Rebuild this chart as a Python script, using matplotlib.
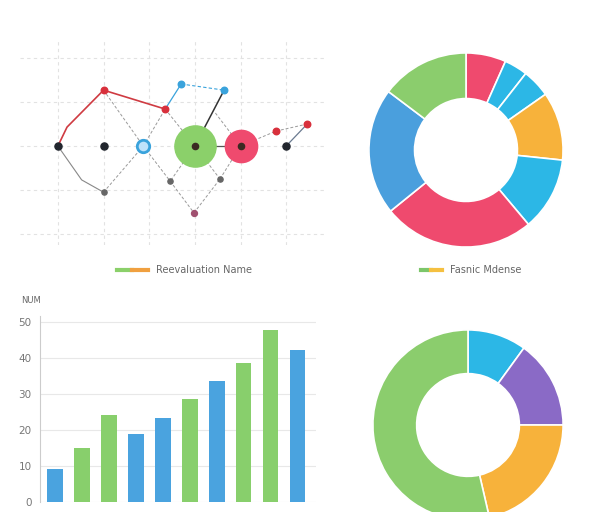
import matplotlib
matplotlib.use("Agg")
import matplotlib.pyplot as plt
from matplotlib.lines import Line2D
from matplotlib.legend_handler import HandlerTuple

# top-left network / scatter chart
node_x = [0, 1, 5]
node_y = [0, 0, 0]
red_x = [1, 2.35, 4.78, 5.46]
red_y = [1.27, 0.84, 0.34, 0.5]
blue_x = [2.7, 3.64]
blue_y = [1.41, 1.27]
gray_x = [1.0, 2.46, 3.55]
gray_y = [-1.05, -0.8, -0.75]
low_x, low_y = 2.98, -1.52
ring_x, ring_y = 1.87, 0
big_green = (3, 0)
big_red = (4, 0)
red_path_x = [0, 0.2, 1, 2.35]
red_path_y = [0, 0.43, 1.27, 0.84]
gray_path_x = [0, 0.52, 1.0]
gray_path_y = [0, -0.77, -1.05]
dashed_links = [((1, 1.27), (1.87, 0)), ((1.87, 0), (2.35, 0.84)), ((2.35, 0.84), (3, 0)),
                ((1.0, -1.05), (1.87, 0)), ((1.87, 0), (2.46, -0.8)), ((2.46, -0.8), (2.98, -1.52)),
                ((2.98, -1.52), (3.55, -0.75)), ((3.55, -0.75), (4, 0)), ((3, 0), (2.46, -0.8)),
                ((3, 0), (3.55, -0.75)), ((3.45, 0.75), (4, 0)), ((4, 0), (4.78, 0.34)),
                ((4.78, 0.34), (5.46, 0.5))]

# top-right donut
donut1_vals = [24, 14, 17, 41, 44, 91, 76, 53]
donut1_cols = ["#ef4a6e", "#2cb7e6", "#2cb7e6", "#f7b23b", "#2cb7e6", "#ef4a6e", "#4a9fdd", "#8bcd6d"]

# bottom-left bars
bar_vals = [9.2, 15.1, 24.2, 18.8, 23.4, 28.5, 33.5, 38.6, 47.6, 42.3]
bar_cols = ["#4aa3df", "#88cf6c", "#88cf6c", "#4aa3df", "#4aa3df", "#88cf6c",
            "#4aa3df", "#88cf6c", "#88cf6c", "#4aa3df"]
yticks = [0, 10, 20, 30, 40, 50]

# bottom-right donut
donut2_vals = [36, 54, 77, 193]
donut2_cols = ["#2cb7e6", "#8a6ac6", "#f7b23b", "#8bcd6d"]

W, H = 600, 512
fig = plt.figure(figsize=(6, 5.12), dpi=100)
fig.patch.set_facecolor("white")

def box(x0, y0, x1, y1):
    return [x0 / W, (H - y1) / H, (x1 - x0) / W, (y1 - y0) / H]

# ---- network chart
ax1 = fig.add_axes(box(20, 40, 325, 245))
ax1.set_xlim(-0.83, 5.85)
ax1.set_ylim(-2.25, 2.41)
ax1.set_xticks(range(6))
ax1.set_yticks([-2, -1, 0, 1, 2])
ax1.grid(True, ls=(0, (3, 3)), color="#e2e2e2", lw=0.8)
ax1.tick_params(length=0, labelbottom=False, labelleft=False)
for s in ax1.spines.values():
    s.set_visible(False)
for (a, b) in dashed_links:
    ax1.plot([a[0], b[0]], [a[1], b[1]], ls=(0, (3, 2)), color="#9a9a9a", lw=0.7, zorder=2)
ax1.plot(red_path_x, red_path_y, color="#cf3b42", lw=1.2, zorder=3)
ax1.plot(gray_path_x, gray_path_y, color="#888888", lw=0.8, zorder=3)
ax1.plot([2.35, 2.7], [0.84, 1.41], color="#3aa3dc", lw=0.9, zorder=3)
ax1.plot(blue_x, blue_y, color="#3aa3dc", ls=(0, (3, 2)), lw=0.8, zorder=3)
ax1.plot([3.64, 3], [1.27, 0], color="#333333", lw=1.1, zorder=3)
ax1.plot([3, 4], [0, 0], color="#555555", lw=0.9, zorder=3)
ax1.plot([5, 5.46], [0, 0.5], color="#6a7a90", lw=0.9, zorder=3)
ax1.scatter(*big_green, s=880, color="#8bd06a", zorder=4)
ax1.scatter(*big_red, s=540, color="#ef4a6e", zorder=4)
ax1.scatter(ring_x, ring_y, s=80, color="#bfe3fb", edgecolor="#3aa3dc", lw=2, zorder=5)
ax1.scatter(node_x, node_y, s=26, color="#22262e", zorder=5)
ax1.scatter([3, 4], [0, 0], s=20, color="#3a2a22", zorder=5)
ax1.scatter(red_x, red_y, s=22, color="#d8303c", zorder=5)
ax1.scatter(blue_x, blue_y, s=22, color="#3aa3dc", zorder=5)
ax1.scatter(gray_x, gray_y, s=14, color="#666666", zorder=5)
ax1.scatter(low_x, low_y, s=18, color="#a05070", zorder=5)
h1 = (Line2D([], [], color="#8bd06a", lw=3), Line2D([], [], color="#f0a040", lw=3))
fig.legend([h1], ["Reevaluation Name"], loc="center left", bbox_to_anchor=(108 / W, 1 - 270 / H),
           frameon=False, fontsize=7, labelcolor="#666666", handlelength=3.2,
           handler_map={tuple: HandlerTuple(ndivide=None, pad=0)})

# ---- top donut
ax2 = fig.add_axes(box(466 - 99, 150 - 99, 466 + 99, 150 + 99))
ax2.pie(donut1_vals, colors=donut1_cols, startangle=90, counterclock=False,
        wedgeprops=dict(width=0.47, edgecolor="white", linewidth=1.2))
ax2.set_xlim(-1.02, 1.02)
ax2.set_ylim(-1.02, 1.02)
ax2.set_aspect("equal")
h2 = (Line2D([], [], color="#7cc66a", lw=3), Line2D([], [], color="#f5c040", lw=3))
fig.legend([h2], ["Fasnic Mdense"], loc="center left", bbox_to_anchor=(412 / W, 1 - 270 / H),
           frameon=False, fontsize=7, labelcolor="#666666", handlelength=2.2,
           handler_map={tuple: HandlerTuple(ndivide=None, pad=0)})

# ---- bar chart
ax3 = fig.add_axes(box(40, 316, 316, 502))
ax3.bar(range(len(bar_vals)), bar_vals, width=0.56, color=bar_cols, zorder=3)
ax3.set_xlim(-0.556, 9.67)
ax3.set_ylim(0, 51.6)
ax3.set_yticks(yticks)
ax3.set_xticks([])
ax3.grid(axis="y", color="#e8e8e8", lw=0.8, zorder=0)
ax3.tick_params(axis="y", length=0, labelsize=7.5, labelcolor="#777777", pad=6)
for s in ["top", "right", "bottom"]:
    ax3.spines[s].set_visible(False)
ax3.spines["left"].set_color("#cccccc")
ax3.text(-0.07, 1.07, "NUM", transform=ax3.transAxes, fontsize=6, color="#666666")

# ---- bottom donut
ax4 = fig.add_axes(box(468 - 97, 425 - 97, 468 + 97, 425 + 97))
ax4.pie(donut2_vals, colors=donut2_cols, startangle=90, counterclock=False,
        wedgeprops=dict(width=0.46, edgecolor="white", linewidth=1.2))
ax4.set_xlim(-1.02, 1.02)
ax4.set_ylim(-1.02, 1.02)
ax4.set_aspect("equal")

fig.savefig("out.png", dpi=100, facecolor="white")
